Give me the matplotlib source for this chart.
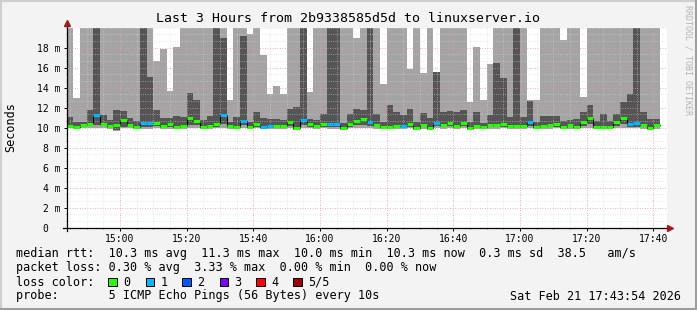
import numpy as np
import pandas as pd
import matplotlib
matplotlib.use('Agg')
import matplotlib.pyplot as plt
import matplotlib.dates as mdates
from matplotlib.lines import Line2D
from matplotlib.patches import Rectangle
from matplotlib.ticker import MultipleLocator, FixedLocator

# 2 minute bins, 14:44 .. 17:42 (values in ms)
start = '2026-02-21 14:44'
n_bins = 89

# outer smoke: min ping .. max ping (22 = off the top of the graph)
p1 = [9.95, 9.90, 9.95, 10.00, 10.00, 9.95, 9.90, 9.70, 9.95, 9.95,
      9.85, 9.90, 9.90, 9.95, 9.90, 9.90, 9.85, 9.90, 10.00, 10.00,
      9.85, 9.90, 9.95, 10.00, 9.90, 9.85, 10.00, 9.85, 9.95, 9.85,
      9.90, 9.85, 9.90, 9.95, 9.75, 10.00, 9.95, 9.85, 9.95, 9.90,
      9.90, 9.80, 9.95, 10.00, 10.00, 9.95, 9.90, 9.85, 9.85, 9.90,
      9.90, 9.95, 9.80, 9.90, 9.80, 9.95, 9.90, 9.95, 9.90, 9.95,
      9.80, 9.90, 9.85, 9.90, 9.90, 9.95, 9.90, 9.90, 9.90, 9.95,
      9.85, 9.90, 9.90, 9.95, 9.85, 9.90, 9.85, 9.95, 10.00, 9.85,
      9.85, 9.85, 9.95, 10.00, 9.95, 9.95, 9.90, 9.80, 9.90]
p5 = [22, 13.0, 22, 22, 22, 22, 22, 22, 22, 22,
      22, 22, 22, 16.7, 17.9, 13.7, 18.1, 22, 22, 22,
      22, 22, 22, 22, 12.8, 22, 22, 19.4, 22, 17.3,
      13.4, 14.2, 13.4, 22, 22, 22, 13.6, 22, 22, 22,
      22, 22, 22, 19.0, 22, 22, 22, 14.4, 22, 22,
      22, 15.9, 22, 15.5, 22, 15.6, 22, 22, 22, 22,
      12.6, 18.1, 12.8, 16.4, 22, 22, 22, 22, 22, 12.8,
      12.8, 22, 22, 22, 18.8, 22, 22, 13.1, 22, 22,
      22, 22, 22, 22, 22, 22, 22, 22, 22]

# inner smoke: 2nd .. 4th ping
p2 = [10.05, 9.98, 10.10, 10.20, 10.30, 10.20, 10.00, 9.75, 10.10, 10.10,
      9.95, 10.05, 10.10, 10.20, 10.00, 10.10, 9.95, 10.00, 10.30, 10.30,
      9.92, 10.00, 10.10, 10.40, 10.00, 9.95, 10.30, 9.95, 10.10, 9.95,
      10.00, 9.95, 10.00, 10.20, 9.78, 10.30, 10.10, 9.95, 10.10, 10.10,
      10.10, 9.88, 10.10, 10.30, 10.30, 10.20, 10.05, 9.92, 9.95, 10.00,
      10.00, 10.10, 9.90, 10.05, 9.90, 10.15, 10.05, 10.20, 10.00, 10.20,
      9.90, 10.00, 9.95, 10.05, 10.05, 10.10, 10.00, 10.00, 10.00, 10.20,
      9.95, 10.00, 10.05, 10.10, 9.95, 10.05, 9.95, 10.20, 10.40, 9.95,
      9.95, 9.95, 10.20, 10.40, 10.10, 10.10, 10.05, 9.88, 10.05]
p4 = [11.07, 10.57, 10.60, 11.73, 22, 11.30, 10.80, 11.73, 11.67, 10.97,
      10.70, 22, 15.10, 11.77, 10.97, 10.97, 11.17, 11.10, 13.50, 12.80,
      10.77, 11.17, 22, 19.00, 10.60, 11.07, 19.17, 10.60, 11.57, 10.97,
      10.90, 10.90, 10.73, 11.87, 12.07, 22, 10.90, 10.77, 11.40, 22,
      22, 10.45, 11.40, 11.85, 11.75, 22, 11.35, 10.55, 12.27, 11.55,
      11.27, 11.87, 10.62, 11.47, 10.95, 15.60, 11.55, 11.65, 11.55, 11.73,
      10.55, 11.60, 10.45, 11.30, 16.45, 15.00, 11.10, 22, 11.10, 12.70,
      10.55, 11.15, 11.15, 11.15, 10.65, 10.77, 10.87, 11.53, 12.27, 10.70,
      11.37, 10.70, 11.37, 12.57, 13.37, 22, 11.57, 10.87, 10.87]

median = [10.20, 10.10, 10.28, 10.40, 11.22, 10.40, 10.18, 10.30, 10.80, 10.30,
          10.05, 10.48, 10.48, 10.48, 10.18, 10.38, 10.05, 10.18, 10.97, 10.68,
          10.05, 10.18, 10.37, 11.27, 10.18, 10.07, 10.70, 10.05, 10.38, 10.08,
          10.15, 10.15, 10.15, 10.58, 9.95, 10.78, 10.37, 10.15, 10.38, 10.40,
          10.40, 9.97, 10.40, 10.65, 10.87, 10.60, 10.30, 10.07, 10.07, 10.17,
          10.20, 10.40, 10.00, 10.30, 10.00, 10.45, 10.30, 10.50, 10.17, 10.50,
          10.00, 10.17, 10.10, 10.30, 10.30, 10.40, 10.20, 10.20, 10.17, 10.57,
          10.10, 10.17, 10.30, 10.40, 10.10, 10.30, 10.10, 10.60, 10.93, 10.10,
          10.10, 10.10, 10.60, 10.93, 10.37, 10.50, 10.30, 9.97, 10.30]

# lost pings per bin (out of 5)
loss = [0, 0, 0, 0, 1, 0, 0, 0, 0, 0,
        0, 1, 1, 0, 0, 0, 0, 0, 0, 0,
        0, 0, 0, 1, 0, 0, 1, 0, 0, 1,
        1, 0, 0, 0, 0, 1, 0, 0, 0, 1,
        1, 0, 0, 0, 0, 1, 0, 0, 0, 0,
        1, 0, 0, 0, 0, 1, 0, 0, 0, 0,
        0, 0, 0, 0, 0, 0, 0, 0, 0, 1,
        0, 0, 0, 0, 0, 0, 0, 0, 0, 0,
        0, 0, 0, 0, 1, 1, 0, 0, 0]

loss_names = ['0', '1', '2', '3', '4', '5/5']
loss_colors = ['#26ff00', '#00b8ff', '#0059ff', '#7e00ff', '#ff0000', '#a10000']

ytick_vals = [0, 2, 4, 6, 8, 10, 12, 14, 16, 18]
ytick_text = ['0  ', '2 m', '4 m', '6 m', '8 m', '10 m', '12 m', '14 m', '16 m', '18 m']

legend_rows = [
    'median rtt:  10.3 ms avg  11.3 ms max  10.0 ms min  10.3 ms now  0.3 ms sd  38.5   am/s',
    'packet loss: 0.30 % avg  3.33 % max  0.00 % min  0.00 % now',
    'loss color:',
    'probe:       5 ICMP Echo Pings (56 Bytes) every 10s',
]
stamp = 'Sat Feb 21 17:43:54 2026'
title = 'Last 3 Hours from 2b9338585d5d to linuxserver.io'

MONO = 'DejaVu Sans Mono'
W, H = 697, 310


def fx(x):
    return x / W


def fy(y):
    return 1 - y / H


t = mdates.date2num(pd.date_range(start, periods=n_bins, freq='2min').to_pydatetime())
bw = 2 / 1440.0
p1 = np.array(p1)
p2 = np.array(p2)
p4 = np.array(p4)
p5 = np.array(p5)
median = np.array(median)

fig = plt.figure(figsize=(W / 100, H / 100), dpi=100)
fig.patch.set_facecolor('#f3f3f3')
ax = fig.add_axes([fx(66.7), 1 - 227.7 / H, 600 / W, 200 / H])
ax.set_facecolor('white')

ax.bar(t, p5 - p1, bottom=p1, width=bw, align='edge', color='#a4a4a4', linewidth=0, zorder=1)
ax.bar(t, p4 - p2, bottom=p2, width=bw, align='edge', color='#555555', linewidth=0, zorder=1.2)

xs = np.append(t, t[-1] + bw)
ys = np.append(median, median[-1])
ax.step(xs, ys, where='post', color='black', lw=0.8, zorder=3)
ax.hlines(median, t, t + bw, colors=[loss_colors[v] for v in loss], lw=2.2, zorder=4)

ax.set_xlim(t[0], t[0] + 180 / 1440.0)
ax.set_ylim(0, 20)

ax.xaxis.set_major_locator(mdates.MinuteLocator(byminute=[0, 20, 40]))
ax.xaxis.set_minor_locator(mdates.MinuteLocator(byminute=range(0, 60, 5)))
ax.xaxis.set_major_formatter(mdates.DateFormatter('%H:%M'))
ax.yaxis.set_major_locator(FixedLocator(ytick_vals))
ax.set_yticklabels(ytick_text)
ax.yaxis.set_minor_locator(MultipleLocator(2 / 3))

ax.set_axisbelow(False)
ax.grid(which='minor', color='#d6d6d6', linestyle=(0, (1, 2)), lw=0.55, alpha=0.8)
ax.grid(which='major', color='#e89a9a', linestyle=(0, (1, 2)), lw=0.6)

ax.tick_params(which='major', length=2, width=0.7, color='black', pad=2.5,
               labelsize=7, labelcolor='black')
ax.tick_params(which='minor', length=1, width=0.5, color='#555555')
for lab in ax.get_xticklabels() + ax.get_yticklabels():
    lab.set_family(MONO)

for s in ax.spines.values():
    s.set_visible(False)

# axes with arrows
fig.add_artist(Line2D([fx(63), fx(668)], [fy(227.7), fy(227.7)], color='black', lw=0.9))
fig.add_artist(Line2D([fx(66.7), fx(66.7)], [fy(231), fy(25)], color='black', lw=0.9))
fig.add_artist(Line2D([fx(670)], [fy(227.7)], marker='>', ms=4.5, color='#9c1c1c', lw=0))
fig.add_artist(Line2D([fx(66.7)], [fy(23)], marker='^', ms=4.5, color='#9c1c1c', lw=0))

fig.text(fx(348.5), fy(18.5), title, family=MONO, fontsize=9.5, ha='center', va='center')
fig.text(fx(10.5), fy(127.5), 'Seconds', family=MONO, fontsize=8.5, rotation=90,
         ha='center', va='center')
fig.text(fx(688), fy(60), 'RRDTOOL / TOBI OETIKER', family=MONO, fontsize=6,
         rotation=-90, ha='center', va='center', color='#b4b4b4')

row_y = [254, 268, 282, 296]
for txt, yy in zip(legend_rows, row_y):
    fig.text(fx(16), fy(yy), txt, family=MONO, fontsize=8.5, ha='left', va='center')
fig.text(fx(681), fy(296), stamp, family=MONO, fontsize=8.5, ha='right', va='center')

box_x = [108.4, 145.8, 182.2, 219.6, 256.4, 293.3]
for bx, name, col in zip(box_x, loss_names, loss_colors):
    fig.add_artist(Rectangle((fx(bx), fy(286.3)), 8.5 / W, 8.5 / H, facecolor=col,
                             edgecolor='black', lw=0.7, transform=fig.transFigure))
    fig.text(fx(bx + 14.5), fy(282), name, family=MONO, fontsize=8.5, ha='left', va='center')

# 3d-ish frame
fig.add_artist(Line2D([0, 1], [fy(1), fy(1)], color='#cecece', lw=1.5))
fig.add_artist(Line2D([fx(1), fx(1)], [0, 1], color='#cecece', lw=1.5))
fig.add_artist(Line2D([0, 1], [fy(309), fy(309)], color='#9e9e9e', lw=1.5))
fig.add_artist(Line2D([fx(696), fx(696)], [0, 1], color='#9e9e9e', lw=1.5))

fig.savefig('out.png', dpi=100, facecolor=fig.get_facecolor())
